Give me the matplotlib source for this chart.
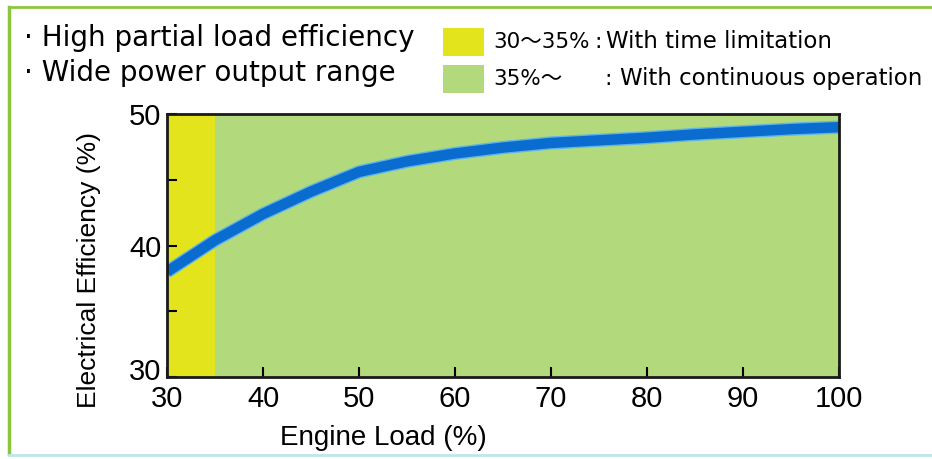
import matplotlib.pyplot as plt
import matplotlib.transforms as mtransforms
from matplotlib.lines import Line2D
from matplotlib.patches import Rectangle
from matplotlib.ticker import MultipleLocator

# engine load (%) vs electrical efficiency (%)
load = [30, 35, 40, 45, 50, 55, 60, 65, 70, 75, 80, 85, 90, 95, 100]
efficiency = [38.0, 40.4, 42.4, 44.1, 45.6, 46.4, 47.0, 47.45, 47.8, 48.0, 48.2, 48.45, 48.65, 48.85, 49.0]

limited_range = (30, 35)
continuous_range = (35, 100)
x_ticks = [30, 40, 50, 60, 70, 80, 90, 100]
y_ticks = [30, 40, 50]

notes = ["\u00b7 High partial load efficiency", "\u00b7 Wide power output range"]
legend_ranges = ["30\u301c35%", "35%\u301c"]
legend_texts = ["With time limitation", "With continuous operation"]

YELLOW = "#e3e41c"
GREEN = "#b2d97c"
BLUE = "#0a6ccf"

plt.rcParams['font.family'] = ['Liberation Sans', 'DejaVu Sans']

fig = plt.figure(figsize=(9.32, 4.59), dpi=100)
ax = fig.add_axes([0.1792, 0.1786, 0.7210, 0.5730])

ax.axvspan(*limited_range, color=YELLOW, lw=0)
ax.axvspan(*continuous_range, color=GREEN, lw=0)
ax.plot(load, efficiency, color="#5fb4e8", lw=9.5, solid_capstyle="butt")
ax.plot(load, efficiency, color=BLUE, lw=7.5, solid_capstyle="butt")

ax.set_xlim(30, 100)
ax.set_ylim(30, 50)
ax.set_xticks(x_ticks)
ax.set_yticks(y_ticks)
ax.yaxis.set_minor_locator(MultipleLocator(5))
ax.tick_params(which="both", direction="in", length=7, width=1.5, labelsize=21, pad=4)
ax.tick_params(axis="x", pad=6)
# lift the bottom y label a little so it sits above the x "30"
lbl = ax.get_yticklabels()[0]
lbl.set_transform(lbl.get_transform() + mtransforms.ScaledTranslation(0, 6 / 72, fig.dpi_scale_trans))
for s in ax.spines.values():
    s.set_linewidth(2)
    s.set_color("#1a1a1a")

fig.text(0.411, 0.046, "Engine Load (%)", fontsize=20, ha="center", va="center")
fig.text(0.095, 0.412, "Electrical Efficiency (%)", fontsize=19, rotation=90,
         ha="center", va="center")

# notes top left
for i, t in enumerate(notes):
    fig.text(0.026, 1 - (38 + 35 * i) / 459, t, fontsize=20, va="center",
             family=['DejaVu Sans'])

# legend boxes
for i, (c, r, t) in enumerate(zip([YELLOW, GREEN], legend_ranges, legend_texts)):
    yc = 1 - (42 + 37 * i) / 459
    fig.add_artist(Rectangle((443 / 932, yc - 14 / 459), 41 / 932, 28 / 459,
                             transform=fig.transFigure, color=c, lw=0))
    fig.text(493 / 932, yc, r, fontsize=15.5, va="center",
             family=['DejaVu Sans', 'Noto Sans CJK JP'])
    fig.text((594 + 10 * i) / 932, yc, ":", fontsize=16, va="center",
             family=['DejaVu Sans'])
    fig.text((606 + 14 * i) / 932, yc, t, fontsize=16.5, va="center",
             family=['DejaVu Sans'])

# outer frame
fig.add_artist(Line2D([9 / 932, 9 / 932], [0.01, 0.985], transform=fig.transFigure, color="#8cc63f", lw=2.5))
fig.add_artist(Line2D([9 / 932, 1], [0.985, 0.985], transform=fig.transFigure, color="#8cc63f", lw=2))
fig.add_artist(Line2D([9 / 932, 1], [0.008, 0.008], transform=fig.transFigure, color="#bfe6ec", lw=2))

fig.savefig("out.png", dpi=100)
